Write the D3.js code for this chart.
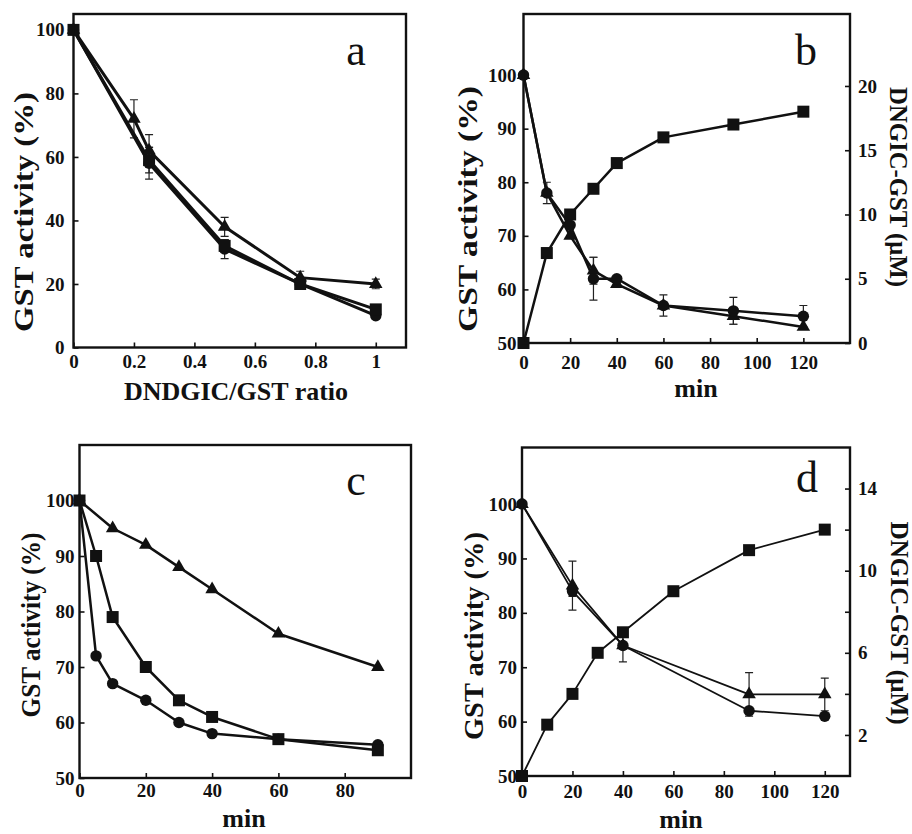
<!DOCTYPE html>
<html>
<head>
<meta charset="utf-8">
<script src="https://cdn.jsdelivr.net/npm/d3@7/dist/d3.min.js"></script>
<style>
body { margin:0; background:#fff; }
svg text { font-family:"Liberation Serif","Times New Roman",serif; fill:#111; }
</style>
</head>
<body>
<script>
// panel a : activity vs DNDGIC/GST ratio
var aTriX = [0, 0.2, 0.25, 0.5, 0.75, 1];
var aTriY = [100, 72, 62, 38, 22, 20];
var aTriE = [0, 6, 5, 3, 2, 1.5];
var aCirX = [0, 0.25, 0.5, 0.75, 1];
var aCirY = [100, 58, 31, 20, 10];
var aCirE = [0, 5, 3, 1, 0];
var aSqX = [0, 0.25, 0.5, 0.75, 1];
var aSqY = [100, 59, 32, 20, 12];
var aSqE = [0, 4, 2, 1, 0];
var aXTicks = [0, 0.2, 0.4, 0.6, 0.8, 1];
var aYTicks = [0, 20, 40, 60, 80, 100];

// panel b : time course, squares on right axis
var bX = [0, 10, 20, 30, 40, 60, 90, 120];
var bCirY = [100, 78, 72, 62, 62, 57, 56, 55];
var bCirE = [0, 2, 0, 4, 0, 2, 2.5, 2];
var bTriY = [100, 78, 70, 63.5, 61, 57, 55, 53];
var bTriE = [0, 0, 0, 2.5, 0, 0, 1.5, 0];
var bSqY = [0, 7, 10, 12, 14, 16, 17, 18];
var bXTicks = [0, 20, 40, 60, 80, 100, 120];
var bYTicks = [50, 60, 70, 80, 90, 100];
var bRTicks = [0, 5, 10, 15, 20];

// panel c
var cTriX = [0, 10, 20, 30, 40, 60, 90];
var cTriY = [100, 95, 92, 88, 84, 76, 70];
var cX = [0, 5, 10, 20, 30, 40, 60, 90];
var cSqY = [100, 90, 79, 70, 64, 61, 57, 55];
var cCirY = [100, 72, 67, 64, 60, 58, 57, 56];
var cXTicks = [0, 20, 40, 60, 80];
var cYTicks = [50, 60, 70, 80, 90, 100];

// panel d
var dX = [0, 20, 40, 90, 120];
var dCirY = [100, 84, 74, 62, 61];
var dCirE = [0, 1, 0, 0, 0];
var dTriY = [100, 85, 74, 65, 65];
var dTriE = [0, 4.5, 3, 4, 3];
var dSqX = [0, 10, 20, 30, 40, 60, 90, 120];
var dSqY = [0, 2.5, 4, 6, 7, 9, 11, 12];
var dXTicks = [0, 20, 40, 60, 80, 100, 120];
var dYTicks = [50, 60, 70, 80, 90, 100];
var dRTicks = [2, 4, 6, 8, 10, 12, 14];
var dRLabels = [2, 6, 10, 14];

var svg = d3.select("body").append("svg").attr("width", 912).attr("height", 834);

function ser(xs, ys, es, shape, right) {
  return xs.map(function(x, i){ return {x:x, y:ys[i], e: es ? es[i] : 0, shape: shape, right: right}; });
}

function panel(o) {
  var g = svg.append("g");
  var x = d3.scaleLinear().domain(o.xd).range([o.l, o.r]);
  var y = d3.scaleLinear().domain(o.yd).range([o.b, o.t]);
  var y2 = o.y2d ? d3.scaleLinear().domain(o.y2d).range([o.b, o.t]) : null;

  var xa = g.append("g").attr("transform", "translate(0," + o.b + ")")
    .call(d3.axisBottom(x).tickValues(o.xt).tickFormat(d3.format("")).tickSizeInner(-5).tickSizeOuter(0).tickPadding(o.xpad));
  var ya = g.append("g").attr("transform", "translate(" + o.l + ",0)")
    .call(d3.axisLeft(y).tickValues(o.yt).tickFormat(d3.format("")).tickSizeInner(-5).tickSizeOuter(0).tickPadding(o.ypad));
  var axes = [xa, ya];
  if (y2) {
    var lab = o.y2l;
    var ra = g.append("g").attr("transform", "translate(" + o.r + ",0)")
      .call(d3.axisRight(y2).tickValues(o.y2t).tickSizeInner(-5).tickSizeOuter(0).tickPadding(8)
        .tickFormat(function(v){ return lab.indexOf(v) >= 0 ? v : ""; }));
    axes.push(ra);
  }
  axes.forEach(function(a){
    a.attr("font-family", null).attr("font-size", null);
    a.select(".domain").remove();
    a.selectAll("line").attr("stroke", "#111").attr("stroke-width", 1.6);
    a.selectAll("text").attr("fill", "#111")
      .style("font-family", "'Liberation Serif', serif").style("font-size", "19px").style("font-weight", "bold");
  });

  o.series.forEach(function(s){
    var yy = s[0].right ? y2 : y;
    var line = d3.line().x(function(d){ return x(d.x); }).y(function(d){ return yy(d.y); });
    g.append("path").datum(s).attr("d", line).attr("fill", "none")
      .attr("stroke", "#111").attr("stroke-width", o.lw).attr("stroke-linejoin", "round");
    s.filter(function(d){ return d.e > 0; }).forEach(function(d){
      var px = x(d.x), y0 = yy(d.y - d.e), y1 = yy(d.y + d.e);
      g.append("path").attr("d", "M" + px + "," + y0 + "V" + y1 + "M" + (px - 4) + "," + y0 + "H" + (px + 4) + "M" + (px - 4) + "," + y1 + "H" + (px + 4))
        .attr("stroke", "#222").attr("stroke-width", 1.2).attr("fill", "none");
    });
  });
  o.series.forEach(function(s){
    var yy = s[0].right ? y2 : y;
    g.selectAll(null).data(s).enter().append("path")
      .attr("transform", function(d){ return "translate(" + x(d.x) + "," + yy(d.y) + ")"; })
      .attr("d", function(d){
        if (d.shape === "sq") return d3.symbol().type(d3.symbolSquare).size(o.ms * o.ms)();
        if (d.shape === "ci") return d3.symbol().type(d3.symbolCircle).size(Math.PI * o.ms * o.ms / 4.4)();
        return d3.symbol().type(d3.symbolTriangle).size(o.ms * o.ms * 0.55)();
      })
      .attr("fill", "#111");
  });

  g.append("rect").attr("x", o.l).attr("y", o.t).attr("width", o.r - o.l).attr("height", o.b - o.t)
    .attr("fill", "none").attr("stroke", "#111").attr("stroke-width", 2.4);

  g.append("text").attr("x", o.letter[0]).attr("y", o.letter[1]).attr("text-anchor", "middle")
    .style("font-size", "44px").text(o.name);
  g.append("text").attr("x", o.xl[0]).attr("y", o.xl[1]).attr("text-anchor", "middle")
    .style("font-size", "26px").style("font-weight", "bold").text(o.xTitle);
  g.append("text").attr("transform", "translate(" + o.yl[0] + "," + o.yl[1] + ") rotate(-90)")
    .attr("text-anchor", "middle").style("font-size", "27px").style("font-weight", "bold")
    .attr("textLength", o.yl[2]).attr("lengthAdjust", "spacingAndGlyphs").text("GST activity (%)");
  if (o.rl) {
    g.append("text").attr("transform", "translate(" + o.rl[0] + "," + o.rl[1] + ") rotate(90)")
      .attr("text-anchor", "middle").style("font-size", "25px").style("font-weight", "bold")
      .attr("textLength", o.rl[2]).attr("lengthAdjust", "spacingAndGlyphs").text("DNGIC-GST (\u03bcM)");
  }
}

panel({
  name: "a", l: 73.5, r: 406, t: 14, b: 347.5, xd: [0, 1.1], yd: [0, 105],
  xt: aXTicks, yt: aYTicks, xpad: 7, ypad: 9, lw: 3, ms: 12,
  series: [ser(aTriX, aTriY, aTriE, "tr"), ser(aCirX, aCirY, aCirE, "ci"), ser(aSqX, aSqY, aSqE, "sq")],
  letter: [356, 65], xl: [236, 400], xTitle: "DNDGIC/GST ratio", yl: [33, 212, 240]
});

panel({
  name: "b", l: 523.5, r: 850, t: 14, b: 343, xd: [0, 140], yd: [50, 111.4], y2d: [0, 25.6],
  xt: bXTicks, yt: bYTicks, y2t: bRTicks, y2l: bRTicks, xpad: 13, ypad: 7, lw: 2.5, ms: 12,
  series: [ser(bX, bSqY, null, "sq", true), ser(bX, bTriY, bTriE, "tr"), ser(bX, bCirY, bCirE, "ci")],
  letter: [806, 65], xl: [696, 397], xTitle: "min", yl: [477, 209, 246], rl: [890, 187, 200]
});

panel({
  name: "c", l: 79.5, r: 411, t: 445, b: 778, xd: [0, 100], yd: [50, 110],
  xt: cXTicks, yt: cYTicks, xpad: 6, ypad: 5, lw: 2.5, ms: 12,
  series: [ser(cTriX, cTriY, null, "tr"), ser(cX, cCirY, null, "ci"), ser(cX, cSqY, null, "sq")],
  letter: [356, 495], xl: [244, 827], xTitle: "min", yl: [40, 625, 185]
});

panel({
  name: "d", l: 522, r: 850, t: 447.5, b: 776, xd: [0, 130], yd: [50, 110.4], y2d: [0, 16],
  xt: dXTicks, yt: dYTicks, y2t: dRTicks, y2l: dRLabels, xpad: 9, ypad: 5, lw: 1.8, ms: 12,
  series: [ser(dSqX, dSqY, null, "sq", true), ser(dX, dTriY, dTriE, "tr"), ser(dX, dCirY, dCirE, "ci")],
  letter: [807, 492], xl: [681, 828], xTitle: "min", yl: [483, 636, 208], rl: [891, 623, 203]
});
</script>
</body>
</html>
